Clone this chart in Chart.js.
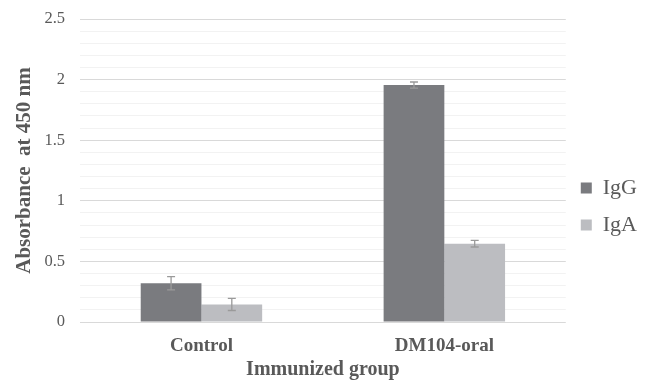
<!DOCTYPE html>
<html>
<head>
<meta charset="utf-8">
<script src="https://cdn.jsdelivr.net/npm/chart.js@4"></script>
<style>
  html, body { margin: 0; padding: 0; background: #fff; }
  #wrap { width: 653px; height: 387px; }
</style>
</head>
<body>
<div id="wrap"><canvas id="myChart" width="653" height="387"></canvas></div>
<script>
const groups = ["Control", "DM104-oral"];
const igG = [0.32, 1.955];
const igA = [0.145, 0.646];
const igGErr = [0.055, 0.025];
const igAErr = [0.05, 0.027];

const serif = "'Liberation Serif', 'Times New Roman', serif";
const textGray = "#595959";

// barras de error dibujadas con las escalas del grafico
const errorBars = {
    id: "errorBars",
    afterDatasetsDraw(chart) {
        const ctx = chart.ctx;
        const y = chart.scales.y;
        const errs = [igGErr, igAErr];
        ctx.save();
        ctx.strokeStyle = "#9a9a9a";
        ctx.lineWidth = 1.3;
        chart.data.datasets.forEach((ds, i) => {
            const meta = chart.getDatasetMeta(i);
            meta.data.forEach((bar, j) => {
                const v = ds.data[j];
                const e = errs[i][j];
                const top = y.getPixelForValue(v + e);
                const bot = y.getPixelForValue(v - e);
                ctx.beginPath();
                ctx.moveTo(bar.x, top);
                ctx.lineTo(bar.x, bot);
                ctx.moveTo(bar.x - 4, top);
                ctx.lineTo(bar.x + 4, top);
                ctx.moveTo(bar.x - 4, bot);
                ctx.lineTo(bar.x + 4, bot);
                ctx.stroke();
            });
        });
        ctx.restore();
    }
};

const isMajor = (v) => Math.round(v * 10) % 5 === 0;

new Chart(document.getElementById("myChart"), {
    type: "bar",
    data: {
        labels: groups,
        datasets: [
            { label: "IgG", data: igG, backgroundColor: "rgb(122,123,127)" },
            { label: "IgA", data: igA, backgroundColor: "rgb(188,189,193)" }
        ]
    },
    options: {
        responsive: false,
        animation: false,
        devicePixelRatio: 1,
        layout: { padding: { top: 19, left: 6, right: 6, bottom: 0 } },
        datasets: { bar: { barPercentage: 1, categoryPercentage: 0.5 } },
        plugins: {
            tooltip: { enabled: false },
            legend: {
                position: "right",
                title: { display: true, text: " ", font: { size: 6 }, padding: 0 },
                labels: {
                    boxWidth: 11,
                    boxHeight: 11,
                    padding: 15,
                    color: textGray,
                    font: { family: serif, size: 22 }
                }
            }
        },
        scales: {
            x: {
                afterFit: (s) => { s.height = 65; },
                grid: { display: false },
                border: { display: false },
                ticks: { color: textGray, font: { family: serif, size: 19, weight: "bold" }, padding: 5 },
                title: {
                    display: true,
                    text: "Immunized group",
                    color: textGray,
                    font: { family: serif, size: 20, weight: "bold" },
                    padding: { top: 2, bottom: 5 }
                }
            },
            y: {
                afterFit: (s) => { s.width = 74; },
                min: 0,
                max: 2.5,
                border: { display: false },
                grid: {
                    drawTicks: true,
                    tickLength: 12,
                    tickColor: "rgba(0,0,0,0)",
                    color: (c) => isMajor(c.tick.value) ? "#d9d9d9" : "#f2f2f2",
                    lineWidth: 1
                },
                ticks: {
                    stepSize: 0.1,
                    autoSkip: false,
                    padding: 3,
                    color: textGray,
                    font: { family: serif, size: 16.5 },
                    callback: (v) => isMajor(v) ? String(Math.round(v * 10) / 10) : ""
                },
                title: {
                    display: true,
                    text: "Absorbance  at 450 nm",
                    color: textGray,
                    font: { family: serif, size: 21, weight: "bold" },
                    padding: { top: 6, bottom: 6 }
                }
            }
        }
    },
    plugins: [errorBars]
});
</script>
</body>
</html>
